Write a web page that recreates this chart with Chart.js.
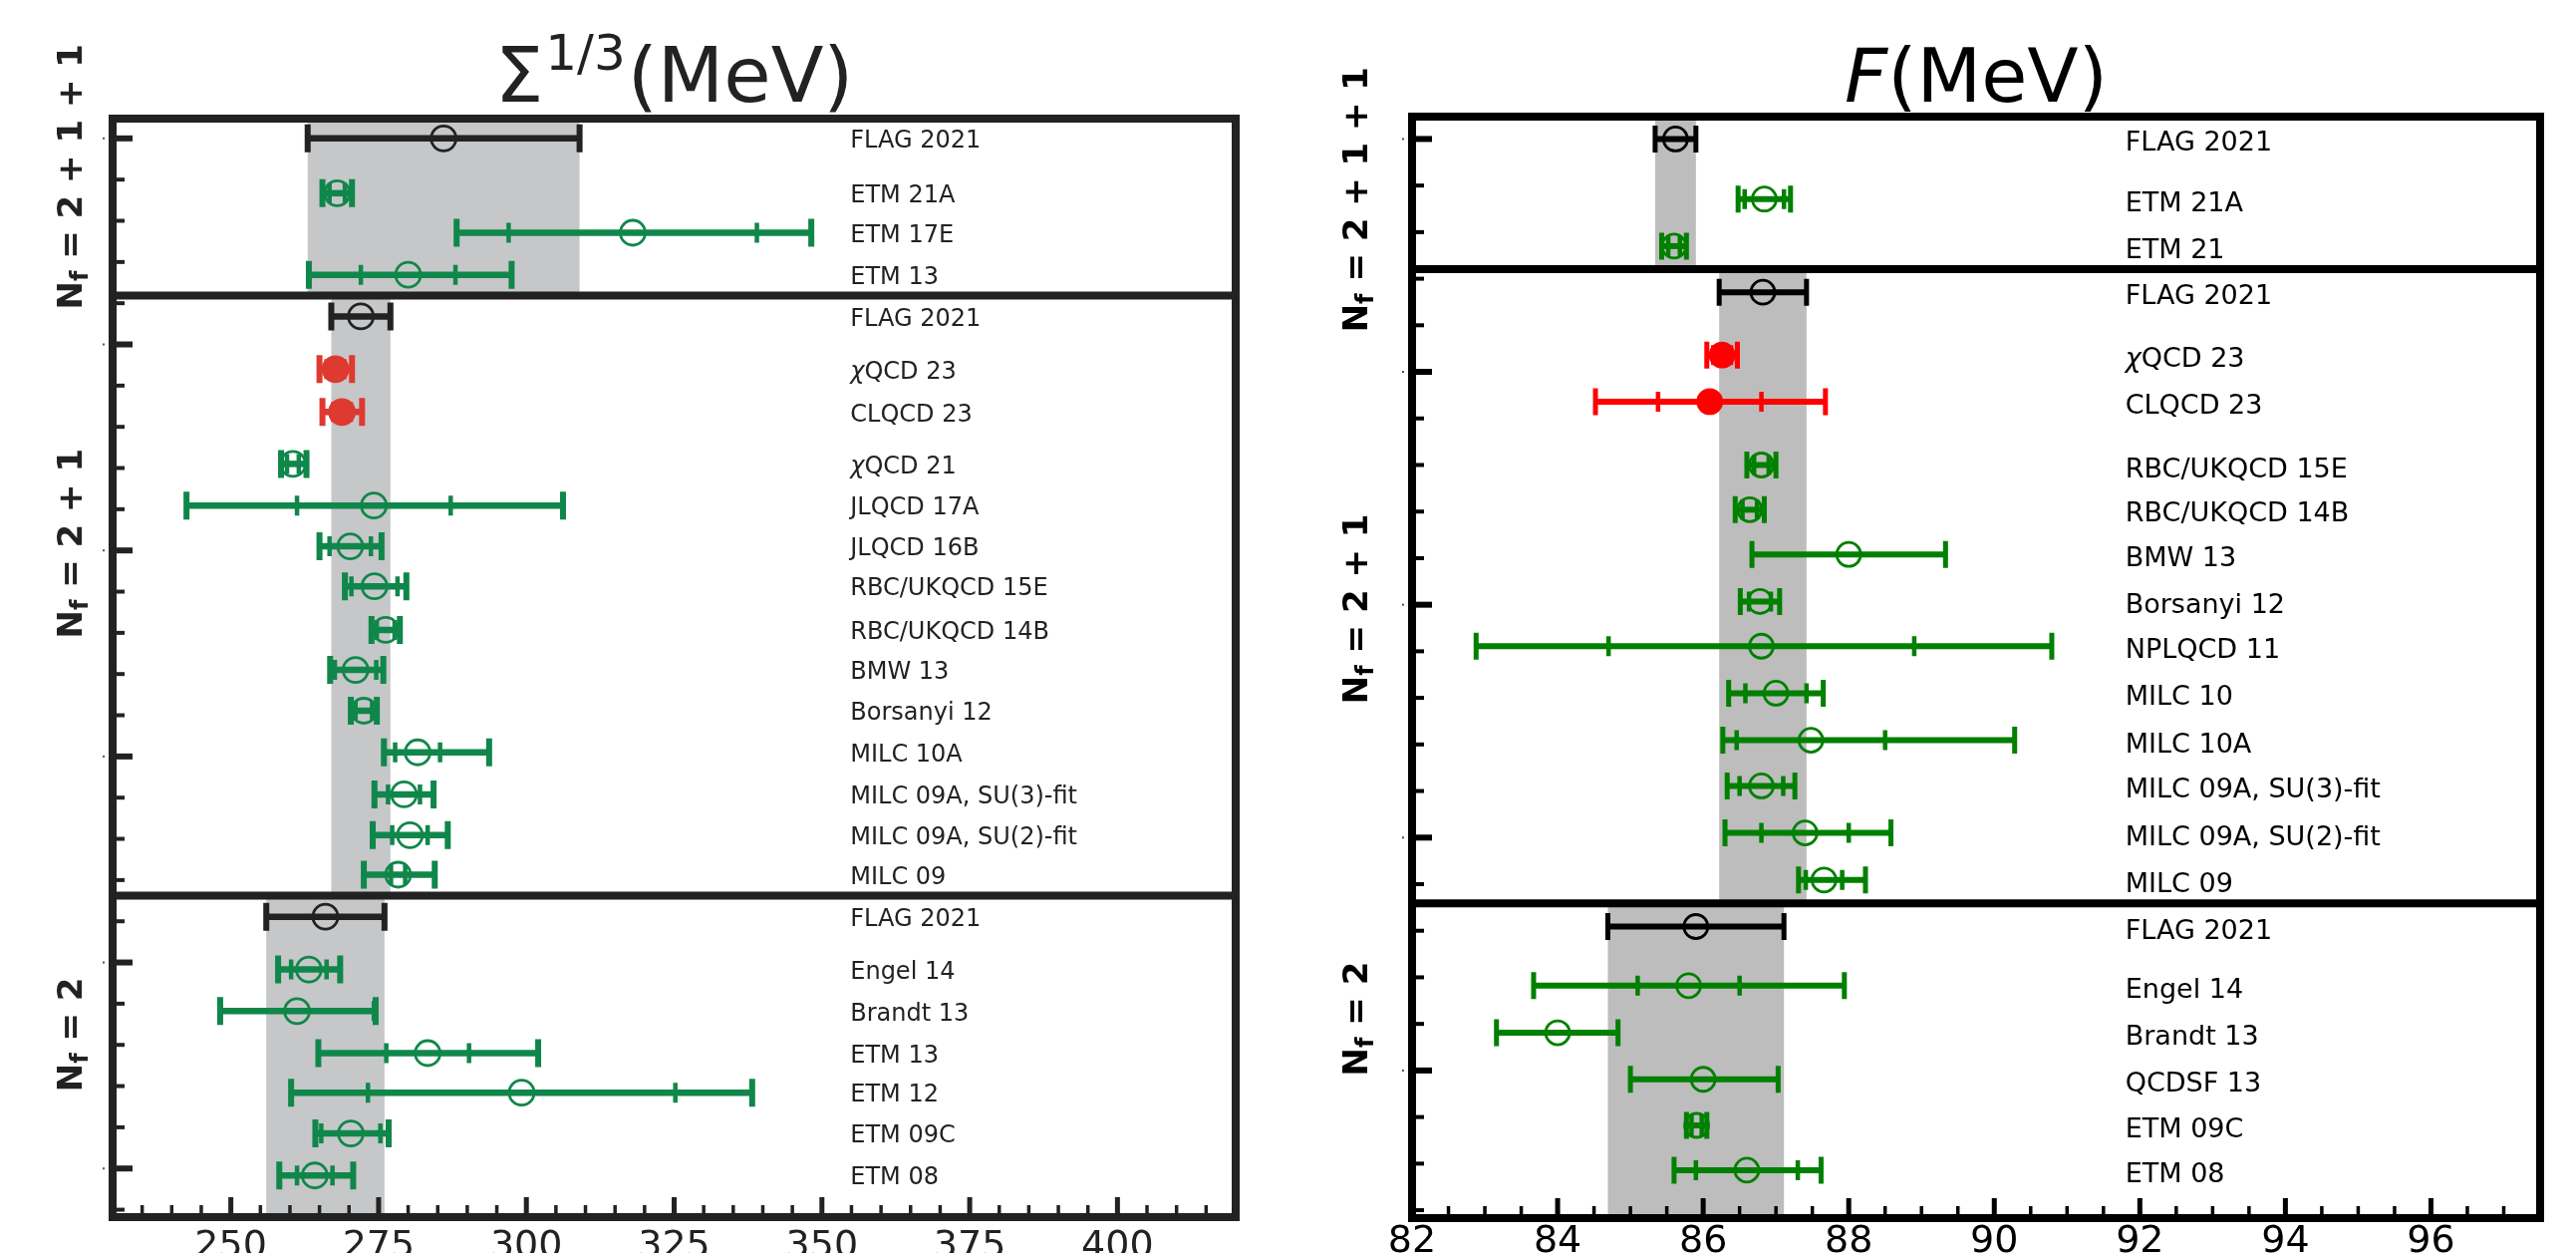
<!DOCTYPE html>
<html>
<head>
<meta charset="utf-8">
<script src="https://cdn.jsdelivr.net/npm/chart.js@4.4.1/dist/chart.umd.min.js"></script>
<style>
  html, body { margin: 0; padding: 0; background: #fff; width: 2585px; height: 1257px; overflow: hidden; }
  .panel { position: absolute; top: 0; height: 1257px; }
  #leftWrap { left: 0; width: 1290px; }
  #rightWrap { left: 1290px; width: 1295px; }
</style>
</head>
<body>
<div class="panel" id="leftWrap"><canvas id="sigmaChart" width="1290" height="1257"></canvas></div>
<div class="panel" id="rightWrap"><canvas id="fChart" width="1295" height="1257"></canvas></div>
<script>
// ---- Sigma^(1/3) panel data (MeV) ----
const sigLabels = ['FLAG 2021', 'ETM 21A', 'ETM 17E', 'ETM 13',
  'FLAG 2021', 'χQCD 23', 'CLQCD 23', 'χQCD 21', 'JLQCD 17A', 'JLQCD 16B', 'RBC/UKQCD 15E',
  'RBC/UKQCD 14B', 'BMW 13', 'Borsanyi 12', 'MILC 10A', 'MILC 09A, SU(3)-fit', 'MILC 09A, SU(2)-fit', 'MILC 09',
  'FLAG 2021', 'Engel 14', 'Brandt 13', 'ETM 13', 'ETM 12', 'ETM 09C', 'ETM 08'];
const sigGroups = ['2 + 1 + 1', '2 + 1 + 1', '2 + 1 + 1', '2 + 1 + 1',
  '2 + 1', '2 + 1', '2 + 1', '2 + 1', '2 + 1', '2 + 1', '2 + 1', '2 + 1', '2 + 1', '2 + 1', '2 + 1', '2 + 1', '2 + 1', '2 + 1',
  '2', '2', '2', '2', '2', '2', '2'];
const sigKinds = ['avg', 'old', 'old', 'old',
  'avg', 'new', 'new', 'old', 'old', 'old', 'old', 'old', 'old', 'old', 'old', 'old', 'old', 'old',
  'avg', 'old', 'old', 'old', 'old', 'old', 'old'];
const sigRows = [25, 23.67, 22.71, 21.69,
  20.68, 19.4, 18.36, 17.1, 16.09, 15.1, 14.13, 13.07, 12.1, 11.11, 10.1, 9.08, 8.09, 7.13,
  6.11, 4.83, 3.82, 2.8, 1.84, 0.85, -0.17];
const sigValues = [286, 268, 318, 280,
  272, 267.7, 268.8, 260.5, 274.2, 270.2, 274.3, 276.2, 271.1, 272.5, 281.6, 279.3, 280.3, 278.3,
  266, 263.2, 261.2, 283.3, 299.2, 270.3, 264.2];
const sigStatErr = [0, 1.3, 21, 8,
  0, 1.5, 1.5, 1, 13, 3.5, 3.9, 1.5, 3.5, 1.4, 3.8, 2.7, 3, 1.2,
  0, 3, 13, 7, 26, 5, 3];
const sigTotLo = [23, 2.5, 29.8, 16.8,
  5, 2.7, 3.3, 2, 31.7, 5.2, 5, 2.4, 4.3, 2.2, 5.7, 5, 6.3, 5.8,
  10, 5.2, 13, 18.5, 39, 6, 6];
const sigTotHi = [23, 2.5, 30.2, 17.5,
  5, 2.8, 3.4, 2.3, 32, 5.3, 5.4, 2.4, 4.7, 2.2, 12.1, 5, 6.4, 6.2,
  10, 5.3, 13.3, 18.7, 39, 6.4, 6.5];
const sigTickLabels = [250, 275, 300, 325, 350, 375, 400];

// ---- F panel data (MeV) ----
const fLabels = ['FLAG 2021', 'ETM 21A', 'ETM 21',
  'FLAG 2021', 'χQCD 23', 'CLQCD 23', 'RBC/UKQCD 15E', 'RBC/UKQCD 14B', 'BMW 13', 'Borsanyi 12', 'NPLQCD 11',
  'MILC 10', 'MILC 10A', 'MILC 09A, SU(3)-fit', 'MILC 09A, SU(2)-fit', 'MILC 09',
  'FLAG 2021', 'Engel 14', 'Brandt 13', 'QCDSF 13', 'ETM 09C', 'ETM 08'];
const fGroups = ['2 + 1 + 1', '2 + 1 + 1', '2 + 1 + 1',
  '2 + 1', '2 + 1', '2 + 1', '2 + 1', '2 + 1', '2 + 1', '2 + 1', '2 + 1', '2 + 1', '2 + 1', '2 + 1', '2 + 1', '2 + 1',
  '2', '2', '2', '2', '2', '2'];
const fKinds = ['avg', 'old', 'old',
  'avg', 'new', 'new', 'old', 'old', 'old', 'old', 'old', 'old', 'old', 'old', 'old', 'old',
  'avg', 'old', 'old', 'old', 'old', 'old'];
const fRows = [20, 18.71, 17.7,
  16.71, 15.36, 14.36, 13.0, 12.04, 11.08, 10.07, 9.11, 8.1, 7.09, 6.11, 5.1, 4.09,
  3.09, 1.82, 0.81, -0.19, -1.18, -2.14];
const fValues = [85.62, 86.84, 85.6,
  86.82, 86.26, 86.09, 86.8, 86.64, 88.0, 86.78, 86.8, 87.0, 87.48, 86.8, 87.4, 87.66,
  85.9, 85.8, 84.0, 86.0, 85.91, 86.6];
const fStatErr = [0, 0.27, 0.08,
  0, 0.12, 0.71, 0.1, 0.1, 0, 0.15, 2.1, 0.42, 1.02, 0.3, 0.6, 0.25,
  0, 0.7, 0, 0, 0.07, 0.7];
const fTotLo = [0.28, 0.36, 0.17,
  0.6, 0.21, 1.57, 0.2, 0.2, 1.33, 0.27, 3.92, 0.65, 1.21, 0.47, 1.1, 0.35,
  1.21, 2.13, 0.84, 1.0, 0.14, 1.0];
const fTotHi = [0.28, 0.36, 0.17,
  0.6, 0.21, 1.59, 0.2, 0.2, 1.33, 0.27, 3.99, 0.65, 2.8, 0.46, 1.18, 0.57,
  1.21, 2.14, 0.83, 1.03, 0.14, 1.02];
const fTickLabels = [82, 84, 86, 88, 90, 92, 94, 96];

// ---- drawing helpers ----
const FONT = '"DejaVu Sans", sans-serif';

function drawLabel(ctx, text, x, y, font) {
  if (text.startsWith('χ')) {
    ctx.font = 'italic ' + font;
    ctx.fillText('χ', x, y);
    const w = ctx.measureText('χ').width;
    ctx.font = font;
    ctx.fillText(text.slice(1), x + w, y);
  } else {
    ctx.font = font;
    ctx.fillText(text, x, y);
  }
}

function drawNf(ctx, rest, cx, cy, size, color) {
  ctx.save();
  ctx.translate(cx, cy);
  ctx.rotate(-Math.PI / 2);
  const big = `bold ${size}px ${FONT}`;
  const small = `bold ${Math.round(size * 0.7)}px ${FONT}`;
  ctx.font = big;
  const wN = ctx.measureText('N').width;
  const wR = ctx.measureText(rest).width;
  ctx.font = small;
  const wf = ctx.measureText('f').width;
  const x0 = -(wN + wf + wR) / 2;
  const base = size * 0.36;
  ctx.fillStyle = color;
  ctx.textBaseline = 'alphabetic';
  ctx.textAlign = 'left';
  ctx.font = big;
  ctx.fillText('N', x0, base);
  ctx.font = small;
  ctx.fillText('f', x0 + wN, base + size * 0.18);
  ctx.font = big;
  ctx.fillText(rest, x0 + wN + wf, base);
  ctx.restore();
}

function drawTitle(ctx, parts, cx, baseline, color) {
  let total = 0;
  parts.forEach(p => { ctx.font = p.font; p.w = ctx.measureText(p.text).width + (p.gap || 0); total += p.w; });
  let x = cx - total / 2;
  ctx.fillStyle = color;
  ctx.textBaseline = 'alphabetic';
  ctx.textAlign = 'left';
  parts.forEach(p => { ctx.font = p.font; ctx.fillText(p.text, x, baseline + (p.dy || 0)); x += p.w; });
}

function makePanel(canvasId, d, look) {
  const n = d.labels.length;
  const idx = [...Array(n).keys()];

  const datasets = ['avg', 'old', 'new'].map(k => ({
    label: k,
    data: idx.filter(i => d.kinds[i] === k).map(i => ({ x: d.values[i], y: d.rows[i] })),
    pointStyle: 'circle',
    pointRadius: look.marker,
    pointHoverRadius: look.marker,
    pointBorderWidth: look.markerLine,
    pointBorderColor: look.colors[k],
    pointBackgroundColor: k === 'new' ? look.colors[k] : 'rgba(0,0,0,0)',
    showLine: false
  }));

  // section boundaries between flavour groups
  const dividers = [];
  for (let i = 0; i < n - 1; i++) {
    if (d.groups[i] !== d.groups[i + 1]) dividers.push((d.rows[i] + d.rows[i + 1]) / 2);
  }
  const bounds = [d.yMax, ...dividers, d.yMin];
  const groupNames = [...new Set(d.groups)];

  const xTickVals = [];
  for (let v = d.xMin; v <= d.xMax + 1e-9; v += d.xStep) xTickVals.push(+v.toFixed(3));

  const decor = {
    id: 'flagDecor',
    beforeDatasetsDraw(chart) {
      const { ctx, chartArea: a, scales: { x, y } } = chart;
      ctx.save();
      // grey bands from the FLAG average of each section
      groupNames.forEach((g, j) => {
        const fi = idx.find(i => d.groups[i] === g && d.kinds[i] === 'avg');
        const x0 = x.getPixelForValue(d.values[fi] - d.totLo[fi]);
        const x1 = x.getPixelForValue(d.values[fi] + d.totHi[fi]);
        const y0 = y.getPixelForValue(bounds[j]);
        const y1 = y.getPixelForValue(bounds[j + 1]);
        ctx.fillStyle = look.band;
        ctx.fillRect(x0, y0, x1 - x0, y1 - y0);
      });
      // error bars
      ctx.lineCap = 'butt';
      idx.forEach(i => {
        const col = look.colors[d.kinds[i]];
        const yp = y.getPixelForValue(d.rows[i]);
        const xl = x.getPixelForValue(d.values[i] - d.totLo[i]);
        const xh = x.getPixelForValue(d.values[i] + d.totHi[i]);
        ctx.strokeStyle = col;
        ctx.lineWidth = look.bar;
        ctx.beginPath();
        ctx.moveTo(xl, yp); ctx.lineTo(xh, yp);
        ctx.stroke();
        ctx.lineWidth = look.capW;
        ctx.beginPath();
        [xl, xh].forEach(xx => { ctx.moveTo(xx, yp - look.cap / 2); ctx.lineTo(xx, yp + look.cap / 2); });
        ctx.stroke();
        if (d.stat[i] > 0) {
          const sl = x.getPixelForValue(d.values[i] - d.stat[i]);
          const sh = x.getPixelForValue(d.values[i] + d.stat[i]);
          ctx.lineWidth = look.tickW;
          ctx.beginPath();
          [sl, sh].forEach(xx => { ctx.moveTo(xx, yp - look.tick / 2); ctx.lineTo(xx, yp + look.tick / 2); });
          ctx.stroke();
        }
      });
      ctx.restore();
    },
    afterDraw(chart) {
      const { ctx, chartArea: a, scales: { x, y } } = chart;
      ctx.save();
      ctx.strokeStyle = look.frame;
      ctx.fillStyle = look.frame;
      // inward ticks on the bottom axis
      xTickVals.forEach(v => {
        const px = x.getPixelForValue(v);
        const major = d.tickLabels.includes(v);
        ctx.lineWidth = major ? 5 : 3.5;
        ctx.beginPath();
        ctx.moveTo(px, a.bottom);
        ctx.lineTo(px, a.bottom - (major ? 20 : 12));
        ctx.stroke();
      });
      // inward ticks on the left axis
      for (let v = Math.ceil(d.yMin); v <= Math.floor(d.yMax); v++) {
        const py = y.getPixelForValue(v);
        const major = v % 5 === 0;
        ctx.lineWidth = major ? 6 : 4;
        ctx.beginPath();
        ctx.moveTo(a.left, py);
        ctx.lineTo(a.left + (major ? 20 : 12), py);
        ctx.stroke();
        if (major) {
          ctx.fillStyle = '#555';
          ctx.fillRect(a.left - 10, py - 1, 2, 2);
          ctx.fillStyle = look.frame;
        }
      }
      // frame and section dividers
      ctx.lineWidth = 8;
      ctx.lineJoin = 'miter';
      ctx.strokeRect(a.left, a.top, a.right - a.left, a.bottom - a.top);
      dividers.forEach(v => {
        const py = y.getPixelForValue(v);
        ctx.beginPath();
        ctx.moveTo(a.left, py);
        ctx.lineTo(a.right, py);
        ctx.stroke();
      });
      // row labels
      ctx.fillStyle = look.text;
      ctx.textBaseline = 'middle';
      ctx.textAlign = 'left';
      const lx = x.getPixelForValue(d.labelX);
      idx.forEach(i => {
        drawLabel(ctx, d.labels[i], lx, y.getPixelForValue(d.rows[i]) + look.labelDy, `${look.labelSize}px ${FONT}`);
      });
      // flavour labels
      groupNames.forEach((g, j) => {
        drawNf(ctx, ' = ' + g, look.nfX, y.getPixelForValue(d.nfAt[j]), look.nfSize, look.text);
      });
      // title
      drawTitle(ctx, d.title, (a.left + a.right) / 2, 102, look.text);
      ctx.restore();
    }
  };

  return new Chart(document.getElementById(canvasId), {
    type: 'scatter',
    data: { datasets },
    options: {
      responsive: false,
      animation: false,
      devicePixelRatio: 1,
      events: [],
      layout: { padding: look.padding },
      plugins: { legend: { display: false }, tooltip: { enabled: false }, title: { display: false } },
      scales: {
        x: {
          type: 'linear', position: 'bottom', min: d.xMin, max: d.xMax,
          grid: { display: false, drawTicks: false },
          border: { display: false },
          afterBuildTicks: s => { s.ticks = xTickVals.map(v => ({ value: v })); },
          afterFit: s => { s.height = look.xAxisH; },
          ticks: {
            autoSkip: false, maxRotation: 0, minRotation: 0, padding: look.tickPad,
            color: look.text, font: { family: 'DejaVu Sans', size: 38 },
            callback: v => d.tickLabels.includes(+(+v).toFixed(3)) ? String(v) : ''
          }
        },
        y: { type: 'linear', display: false, min: d.yMin, max: d.yMax }
      }
    },
    plugins: [decor]
  });
}

makePanel('sigmaChart', {
  labels: sigLabels, groups: sigGroups, kinds: sigKinds, rows: sigRows, values: sigValues,
  stat: sigStatErr, totLo: sigTotLo, totHi: sigTotHi, tickLabels: sigTickLabels,
  xMin: 230, xMax: 420, xStep: 5, yMin: -1.18, yMax: 25.48, labelX: 354.8,
  nfAt: [24.07, 15.17, 3.25],
  title: [
    { text: 'Σ', font: `77px ${FONT}`, gap: 2 },
    { text: '1/3', font: `50px ${FONT}`, dy: -32, gap: 2 },
    { text: '(MeV)', font: `77px ${FONT}` }
  ]
}, {
  colors: { avg: '#222222', old: '#10874a', new: '#de3a30' },
  band: '#c6c7c9', frame: '#222222', text: '#222222',
  bar: 6.5, cap: 28, capW: 6, tick: 20, tickW: 4.5, marker: 12.5, markerLine: 2.8,
  labelSize: 24, labelDy: 3, nfX: 70, nfSize: 34,
  padding: { left: 113, top: 119, right: 1290 - 1240, bottom: 0 },
  xAxisH: 1257 - 1221, tickPad: 7
});

makePanel('fChart', {
  labels: fLabels, groups: fGroups, kinds: fKinds, rows: fRows, values: fValues,
  stat: fStatErr, totLo: fTotLo, totHi: fTotHi, tickLabels: fTickLabels,
  xMin: 82, xMax: 97.5, xStep: 0.5, yMin: -3.17, yMax: 20.48, labelX: 91.8,
  nfAt: [18.7, 9.91, 1.11],
  title: [
    { text: 'F', font: `italic 75px ${FONT}` },
    { text: '(MeV)', font: `75px ${FONT}` }
  ]
}, {
  colors: { avg: '#000000', old: '#008000', new: '#ff0000' },
  band: '#bdbdbd', frame: '#000000', text: '#000000',
  bar: 6, cap: 27, capW: 5, tick: 20, tickW: 4.5, marker: 12, markerLine: 2.8,
  labelSize: 27, labelDy: 5, nfX: 70, nfSize: 34,
  padding: { left: 127, top: 117, right: 1295 - 1259, bottom: 0 },
  xAxisH: 1257 - 1222, tickPad: 1
});
</script>
</body>
</html>
